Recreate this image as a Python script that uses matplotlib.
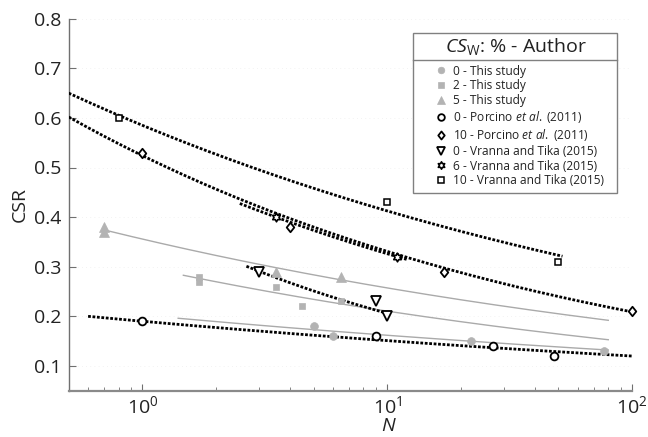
import numpy as np
import matplotlib
matplotlib.use('Agg')
import matplotlib.pyplot as plt
from matplotlib.path import Path
from matplotlib.lines import Line2D
from matplotlib.patches import Rectangle

plt.rcParams['font.family'] = ['Open Sans', 'DejaVu Sans']
plt.rcParams['mathtext.fontset'] = 'custom'
plt.rcParams['mathtext.rm'] = 'Open Sans'
plt.rcParams['mathtext.it'] = 'Open Sans:italic'
plt.rcParams['mathtext.bf'] = 'Open Sans:bold'

# ---------------- data ----------------
n_this0 = [5, 6, 22, 77]
csr_this0 = [0.18, 0.16, 0.15, 0.13]
n_this2 = [1.7, 1.7, 3.5, 4.5, 6.5]
csr_this2 = [0.28, 0.27, 0.26, 0.22, 0.23]
n_this5 = [0.7, 0.7, 3.5, 6.5]
csr_this5 = [0.38, 0.37, 0.29, 0.28]
n_por0 = [1, 9, 27, 48]
csr_por0 = [0.19, 0.16, 0.14, 0.12]
n_por10 = [1, 4, 17, 100]
csr_por10 = [0.53, 0.38, 0.29, 0.21]
n_vt0 = [3, 9, 10]
csr_vt0 = [0.29, 0.23, 0.20]
n_vt6 = [3.5, 11]
csr_vt6 = [0.40, 0.32]
n_vt10 = [0.8, 10, 50]
csr_vt10 = [0.60, 0.43, 0.31]

# power-law trend lines CSR = a * N**b : (a, b, Nmin, Nmax)
fit_this0 = (0.2026, -0.0978, 1.4, 80)
fit_this2 = (0.300, -0.154, 1.47, 80)
fit_this5 = (0.3557, -0.1408, 0.70, 80)
fit_por0 = (0.190, -0.100, 0.6, 100)
fit_por10 = (0.524, -0.1997, 0.5, 100)
fit_vt0 = (0.398, -0.286, 2.66, 10)
fit_vt6 = (0.511, -0.195, 2.5, 12)
fit_vt10 = (0.585, -0.1518, 0.5, 52)

labels = ['0 - This study', '2 - This study', '5 - This study',
          r'0 - Porcino $\mathit{et\ al.}$ (2011)',
          r'10 - Porcino $\mathit{et\ al.}$ (2011)',
          '0 - Vranna and Tika (2015)', '6 - Vranna and Tika (2015)',
          '10 - Vranna and Tika (2015)']
legend_title = r'$\mathit{CS}_{\mathrm{W}}$: % - Author'

xticks = [1, 10, 100]
yticks = [0.1, 0.2, 0.3, 0.4, 0.5, 0.6, 0.7, 0.8]

# ---------------- styling ----------------
grey = '#b3b3b3'
greyline = '#aaaaaa'
txt = '#222222'
dot_style = (0, (1.0, 0.6))
W, H = 648, 437

ang_o = np.deg2rad(90 + 60 * np.arange(6))
ang_i = ang_o + np.deg2rad(30)
r_i = 1 / np.sqrt(3)
verts = []
for ao, ai in zip(ang_o, ang_i):
    verts.append((np.cos(ao), np.sin(ao)))
    verts.append((r_i * np.cos(ai), r_i * np.sin(ai)))
verts.append(verts[0])
hexagram = Path(verts, closed=True)
diamond = Path([(0, 1), (0.8, 0), (0, -1), (-0.8, 0), (0, 1)], closed=True)

fig = plt.figure(figsize=(W / 100, H / 100), dpi=100)
ax = fig.add_axes([68.7 / W, 1 - 390.7 / H, (632 - 68.7) / W, (390.7 - 18.7) / H])


def draw_fit(fit, **kw):
    a, b, lo, hi = fit
    nn = np.logspace(np.log10(lo), np.log10(hi), 200)
    ax.plot(nn, a * nn ** b, **kw)


grey_kw = dict(color=greyline, lw=1.0, zorder=2)
dot_kw = dict(color='black', lw=2.0, linestyle=dot_style, zorder=3)
draw_fit(fit_this0, **grey_kw)
draw_fit(fit_this2, **grey_kw)
draw_fit(fit_this5, **grey_kw)
draw_fit(fit_por0, **dot_kw)
draw_fit(fit_por10, **dot_kw)
draw_fit(fit_vt0, **dot_kw)
draw_fit(fit_vt6, **dot_kw)
draw_fit(fit_vt10, **dot_kw)

styles = [
    dict(marker='o', ms=5.6, mfc=grey, mec=grey, mew=0.5),
    dict(marker='s', ms=5.0, mfc=grey, mec=grey, mew=0.5),
    dict(marker='^', ms=7.0, mfc=grey, mec=grey, mew=0.5),
    dict(marker='o', ms=5.6, mfc='white', mec='black', mew=1.3),
    dict(marker=diamond, ms=6.8, mfc='white', mec='black', mew=1.3),
    dict(marker='v', ms=7.0, mfc='white', mec='black', mew=1.3),
    dict(marker=hexagram, ms=6.2, mfc='white', mec='black', mew=1.2),
    dict(marker='s', ms=4.8, mfc='white', mec='black', mew=1.1),
]
series = [(n_this0, csr_this0), (n_this2, csr_this2), (n_this5, csr_this5),
          (n_por0, csr_por0), (n_por10, csr_por10), (n_vt0, csr_vt0),
          (n_vt6, csr_vt6), (n_vt10, csr_vt10)]
for (xs, ys), st in zip(series, styles):
    ax.plot(xs, ys, ls='none', clip_on=False,
            zorder=5 if st['mfc'] == 'white' else 4, **st)

ax.set_xscale('log')
ax.set_xlim(0.5, 100)
ax.set_ylim(0.05, 0.8)
ax.set_xticks(xticks)
ax.set_yticks(yticks)
ax.set_yticklabels([f'{v:.1f}' for v in yticks])
ax.yaxis.grid(True, color='#eeeeee', lw=0.6, linestyle=(0, (1, 4)))
ax.set_axisbelow(True)

for s in ['top', 'right']:
    ax.spines[s].set_visible(False)
ax.spines['left'].set_color('#707070')
ax.spines['bottom'].set_color('#8a8a8a')
ax.spines['bottom'].set_linewidth(1.6)
ax.spines['left'].set_linewidth(1.0)
ax.tick_params(axis='both', which='both', direction='in', colors='#707070',
               labelcolor=txt, labelsize=14)
ax.tick_params(axis='y', length=5, pad=5)
ax.tick_params(axis='x', which='major', length=5, pad=3)
ax.tick_params(axis='x', which='minor', length=3)
ax.tick_params(axis='y', which='minor', left=False)

ax.set_ylabel('CSR', fontsize=14, color=txt, labelpad=4)
ax.set_xlabel('N', fontsize=14, fontstyle='italic', color=txt)
ax.xaxis.set_label_coords((388 - 68.7) / (632 - 68.7), -0.072)

# ---------------- legend (manual frame + title) ----------------
box_l, box_r, box_t, box_b, sep_y = 413, 617, 33, 193, 60
fig.add_artist(Rectangle((box_l / W, 1 - box_b / H), (box_r - box_l) / W,
                         (box_b - box_t) / H, transform=fig.transFigure,
                         fill=True, fc='white', ec='#808080', lw=1.0, zorder=9))
fig.add_artist(Line2D([box_l / W, box_r / W], [1 - sep_y / H] * 2,
                      transform=fig.transFigure, color='#808080', lw=1.0,
                      zorder=10))
fig.text(516 / W, 1 - 46.5 / H, legend_title, ha='center', va='center',
         fontsize=14, color=txt, zorder=11)

handles = []
for st in styles:
    st2 = dict(st)
    st2['ms'] = st['ms'] * 0.85
    handles.append(Line2D([], [], ls='none', **st2))

anchor = [432, 62]
leg = fig.legend(handles, labels, loc='upper left',
                 bbox_to_anchor=(anchor[0] / W, 1 - anchor[1] / H),
                 bbox_transform=fig.transFigure, borderaxespad=0,
                 frameon=False, fontsize=8.6, handlelength=1.0,
                 handletextpad=0.5, labelspacing=0.155, borderpad=0)
leg.set_zorder(12)
for t in leg.get_texts():
    t.set_color(txt)

# adjust legend so first label starts at x=453 and is centred at y=71
fig.canvas.draw()
r = fig.canvas.get_renderer()
tb = leg.get_texts()[0].get_window_extent(r)
cur_x0 = tb.x0
cur_yc = H - (tb.y0 + tb.y1) / 2
anchor[0] += 453 - cur_x0
anchor[1] += 71 - cur_yc
leg.set_bbox_to_anchor((anchor[0] / W, 1 - anchor[1] / H), transform=fig.transFigure)

fig.savefig('out.png', dpi=100)
